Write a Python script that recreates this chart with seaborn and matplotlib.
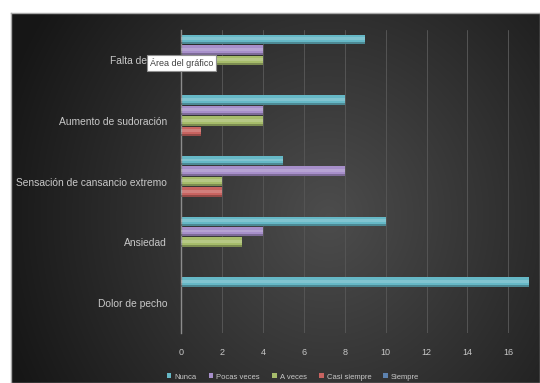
import numpy as np
import pandas as pd
import matplotlib
matplotlib.use("Agg")
import matplotlib.pyplot as plt
from matplotlib.patches import Rectangle
import seaborn as sns

# Síntomas (top to bottom) and answer frequencies per response level
sintomas = ["Falta de aire", "Aumento de sudoración",
            "Sensación de cansancio extremo", "Ansiedad", "Dolor de pecho"]
respuestas = ["Nunca", "Pocas veces", "A veces", "Casi siempre", "Siempre"]
nunca = [9, 8, 5, 10, 17]
pocas_veces = [4, 4, 8, 4, 0]
a_veces = [4, 4, 2, 3, 0]
casi_siempre = [0, 1, 2, 0, 0]
siempre = [0, 0, 0, 0, 0]
x_ticks = [0, 2, 4, 6, 8, 10, 12, 14, 16]

colores = ["#56c3d6", "#a585d4", "#acc95e", "#d9534f", "#4f81bd"]

series = [nunca, pocas_veces, a_veces, casi_siempre, siempre]
rows = []
for resp, vals in zip(respuestas, series):
    for s, v in zip(sintomas, vals):
        rows.append({"Síntoma": s, "Respuesta": resp, "Frecuencia": v})
df = pd.DataFrame(rows)

sns.set_theme(style="dark")
plt.rcParams["font.family"] = ["Liberation Sans Narrow", "Liberation Sans", "DejaVu Sans"]

W, H = 540, 383
fig = plt.figure(figsize=(W / 100, H / 100), dpi=100)
fig.patch.set_facecolor("white")

# dark radial-gradient chart area
bg = fig.add_axes([11 / W, 0, (W - 11) / W, (H - 13) / H])
gx, gy = np.meshgrid(np.linspace(0, 1, 400), np.linspace(0, 1, 300))
r = np.sqrt(((gx - 0.6) / 0.55) ** 2 + ((gy - 0.45) / 0.85) ** 2)
lvl = np.clip(0.30 - 0.18 * r, 0.09, 0.31)
bg.imshow(np.dstack([lvl, lvl, lvl]), aspect="auto", extent=[0, 1, 0, 1],
          origin="lower", interpolation="bilinear")
bg.set_xticks([]); bg.set_yticks([])
for sp in bg.spines.values():
    sp.set_color("#a8a8a8"); sp.set_linewidth(1.0)
bg.set_zorder(0)

ax = fig.add_axes([181 / W, 50 / H, 354 / W, 303 / H])
ax.set_zorder(1)
ax.patch.set_alpha(0)

sns.barplot(data=df, y="Síntoma", x="Frecuencia", hue="Respuesta",
            order=sintomas, hue_order=respuestas, palette=colores,
            orient="h", width=0.86, gap=0.1, linewidth=0, ax=ax)

# soft highlight along the middle of each bar
for p in list(ax.patches):
    if p.get_width() > 0:
        x0, y0 = p.get_x(), p.get_y()
        w, h = p.get_width(), p.get_height()
        ax.add_patch(Rectangle((x0, y0 + h * 0.28), w, h * 0.3,
                               facecolor="white", alpha=0.18, linewidth=0, zorder=3))
        ax.add_patch(Rectangle((x0, y0 + h * 0.8), w, h * 0.2,
                               facecolor="black", alpha=0.25, linewidth=0, zorder=3))

ax.set_xlim(0, 17.3)
ax.set_xticks(x_ticks)
ax.set_xticklabels([str(t) for t in x_ticks])
ax.set_xlabel(""); ax.set_ylabel("")
ax.grid(axis="x", color="#555555", linewidth=0.7)
ax.grid(axis="y", visible=False)
ax.set_axisbelow(True)
for name, sp in ax.spines.items():
    sp.set_visible(name == "left")
ax.spines["left"].set_color("#8c8c8c")
ax.spines["left"].set_linewidth(1.0)
ax.tick_params(axis="x", length=0, pad=11, labelsize=6.5, labelcolor="#c8c8c8")
ax.tick_params(axis="y", length=0, pad=10, labelsize=7.4, labelcolor="#c8c8c8")

handles, labels = ax.get_legend_handles_labels()
if ax.get_legend() is not None:
    ax.get_legend().remove()
fig.legend(handles, labels, loc="center", bbox_to_anchor=(293 / W, 1 - 377 / H),
           ncol=5, frameon=False, fontsize=5.5, handlelength=0.6, handleheight=0.6,
           labelcolor="#c8c8c8", columnspacing=1.6, handletextpad=0.4)

# chart-area tooltip
fig.text(150 / W, 1 - 63 / H, "Área del gráfico", fontsize=6.5, color="#404040",
         va="center", ha="left", zorder=10,
         bbox=dict(boxstyle="square,pad=0.3", facecolor="white", edgecolor="#909090",
                   linewidth=0.8))

fig.savefig("out.png", dpi=100)
